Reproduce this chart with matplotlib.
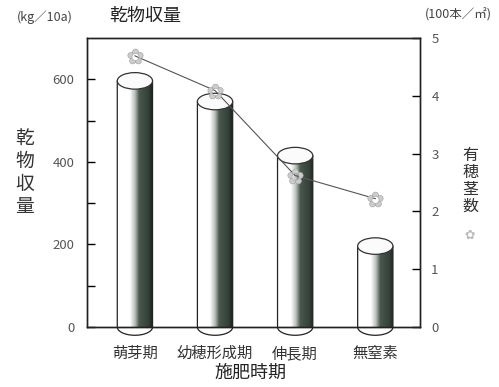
import matplotlib
matplotlib.use('Agg')
import matplotlib.pyplot as plt
import numpy as np
from matplotlib.patches import Ellipse, PathPatch
from matplotlib.path import Path
from matplotlib.colors import LinearSegmentedColormap

plt.rcParams['font.family'] = ['Noto Sans CJK JP', 'DejaVu Sans']

periods = ['萌芽期', '幼穂形成期', '伸長期', '無窒素']
dry_matter = [596, 546, 415, 196]          # kg/10a
panicle_stems = [4.69, 4.09, 2.62, 2.22]   # 100本/㎡

bar_w = 0.44
cap_h = 40  # ellipse height of the cylinder tops, in kg units

shade = LinearSegmentedColormap.from_list('cyl', [
    (0.0, '#ffffff'), (0.36, '#ffffff'), (0.5, '#b8c0ba'),
    (0.62, '#4a574e'), (0.88, '#34403a'), (1.0, '#1a1f1c')])


def draw_cylinder(ax, x, h):
    t = np.linspace(np.pi, 2 * np.pi, 40)
    arc = list(zip(x + bar_w / 2 * np.cos(t), cap_h / 2 * np.sin(t)))
    verts = [(x - bar_w / 2, h)] + arc + [(x + bar_w / 2, h), (x - bar_w / 2, h)]
    codes = [Path.MOVETO] + [Path.LINETO] * (len(verts) - 2) + [Path.CLOSEPOLY]
    body = PathPatch(Path(verts, codes), facecolor='none', edgecolor='#222222',
                     lw=0.9, zorder=3, clip_on=False)
    ax.add_patch(body)
    grad = np.linspace(0, 1, 200)[None, :]
    im = ax.imshow(grad, cmap=shade, aspect='auto', origin='lower',
                   extent=(x - bar_w / 2, x + bar_w / 2, -cap_h / 2, h),
                   interpolation='bilinear', zorder=2)
    im.set_clip_path(body)
    im.set_clip_box(None)
    top = Ellipse((x, h), bar_w, cap_h, facecolor='#fbfbfb', edgecolor='#333333',
                  lw=0.9, zorder=4, clip_on=False)
    ax.add_patch(top)


fig = plt.figure(figsize=(4.99, 3.87), dpi=100)
ax = fig.add_axes([0.174, 0.155, 0.668, 0.747])

xs = np.arange(len(periods))
for x, h in zip(xs, dry_matter):
    draw_cylinder(ax, x, h)

ax.set_xlim(-0.6, 3.56)
ax.set_ylim(0, 700)
ax.set_yticks([0, 200, 400, 600])
ax.set_yticks([100, 300, 500], minor=True)
ax.tick_params(axis='y', which='both', direction='in', length=6, width=1,
               labelsize=9.5, labelcolor='#555555', pad=9)
ax.set_xticks(xs, periods)
ax.tick_params(axis='x', length=0, pad=13, labelsize=11, labelcolor='#333333')
for s in ax.spines.values():
    s.set_linewidth(1)
    s.set_color('#222222')

ax2 = ax.twinx()
ax2.set_ylim(0, 5)
ax2.set_yticks(range(6))
ax2.tick_params(axis='y', direction='in', length=6, width=1,
                labelsize=9.5, labelcolor='#555555', pad=8)
ax2.plot(xs, panicle_stems, color='#555555', lw=0.8, marker='$✿$',
         ms=11, mfc='#cccccc', mec='#aaaaaa', mew=0.5, zorder=5)
for s in ax2.spines.values():
    s.set_linewidth(1)
    s.set_color('#222222')

fig.text(0.291, 0.958, '乾物収量', fontsize=13, ha='center', va='center', color='#222222')
fig.text(0.09, 0.956, '(kg／10a)', fontsize=9, ha='center', va='center', color='#444444')
fig.text(0.918, 0.961, '(100本／㎡)', fontsize=9, ha='center', va='center', color='#444444')
fig.text(0.05, 0.553, '\n'.join('乾物収量'), fontsize=13.5, ha='center', va='center',
         linespacing=1.08, color='#333333')
fig.text(0.942, 0.532, '\n'.join('有穂茎数'), fontsize=11.5, ha='center', va='center',
         linespacing=1.0, color='#333333')
fig.text(0.942, 0.393, '✿', family='DejaVu Sans', fontsize=9, ha='center', va='center',
         color='#bbbbbb')
fig.text(0.501, 0.036, '施肥時期', fontsize=13, ha='center', va='center', color='#222222')

fig.savefig('out.png', dpi=100, facecolor='white')
